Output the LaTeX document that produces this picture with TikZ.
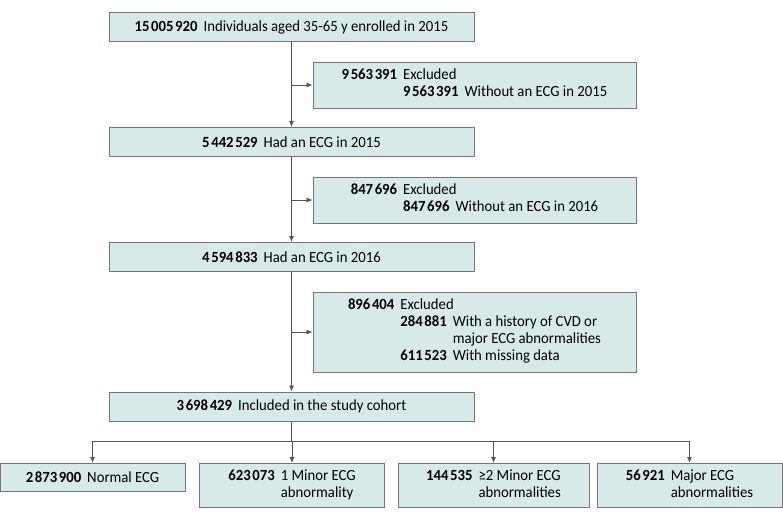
\documentclass[tikz,border=0pt]{standalone}
\usepackage{fontspec}
\setmainfont{Carlito}[FakeStretch=0.95]
\usepackage{tikz}
\usetikzlibrary{arrows.meta, positioning}

\definecolor{boxfill}{RGB}{216,233,234}
\definecolor{boxline}{RGB}{118,118,118}
\definecolor{flowline}{RGB}{85,85,85}

\newcommand{\gs}{\hspace{1.6pt}}
\newcommand{\cnt}[1]{\textbf{#1}\hspace{6pt}}

\begin{document}
\begin{tikzpicture}[
    x=1pt, y=-1pt,
    font=\fontsize{15.5}{17}\selectfont,
    box/.style={rectangle, draw=boxline, line width=0.9pt, fill=boxfill, inner sep=0pt, text centered},
    mainbox/.style={box, minimum width=365pt, minimum height=29pt},
    exclbox/.style={box, minimum width=323pt},
    outbox/.style={box, anchor=north, minimum width=185pt},
    arrow/.style={-{Latex[length=6pt, width=5pt]}, draw=flowline, line width=0.8pt}
]
\useasboundingbox (0,0) rectangle (783,521);

% Main sequence of cohort boxes
\node[mainbox] (enrolled) at (291.5,27) {\cnt{15\gs005\gs920}Individuals aged 35-65 y enrolled in 2015};
\node[mainbox] (ecg2015) at (291.5,142) {\cnt{5\gs442\gs529}Had an ECG in 2015};
\node[mainbox] (ecg2016) at (291.5,257) {\cnt{4\gs594\gs833}Had an ECG in 2016};
\node[mainbox] (cohort) at (291.5,406.5) {\cnt{3\gs698\gs429}Included in the study cohort};

% Exclusion boxes
\node[exclbox, minimum height=46pt] (excl1) at (474.5,85) {%
  \begin{tabular}{@{}r@{\hspace{6pt}}l@{}}
  \textbf{9\gs563\gs391} & Excluded\\
   & \cnt{9\gs563\gs391}Without an ECG in 2015
  \end{tabular}};
\node[exclbox, minimum height=46pt] (excl2) at (474.5,200) {%
  \begin{tabular}{@{}r@{\hspace{6pt}}l@{}}
  \textbf{847\gs696} & Excluded\\
   & \cnt{847\gs696}Without an ECG in 2016
  \end{tabular}};
\node[exclbox, minimum height=80pt] (excl3) at (474.5,332) {%
  \begin{tabular}{@{}r@{\hspace{6pt}}l@{}}
  \textbf{896\gs404} & Excluded\\
   & \begin{tabular}[t]{@{}r@{\hspace{6pt}}l@{}}
     \textbf{284\gs881} & With a history of CVD or\\
      & major ECG abnormalities\\
     \textbf{611\gs523} & With missing data
     \end{tabular}
  \end{tabular}};

% Outcome boxes
\node[outbox, minimum height=28pt] (normal) at (92.5,463) {\cnt{2\gs873\gs900}Normal ECG};
\node[outbox, minimum height=44pt] (minor1) at (292,463) {%
  \begin{tabular}{@{}r@{\hspace{6pt}}l@{}}
  \textbf{623\gs073} & 1 Minor ECG\\
   & abnormality
  \end{tabular}};
\node[outbox, minimum height=44pt, minimum width=191pt] (minor2) at (493.5,463) {%
  \begin{tabular}{@{}r@{\hspace{6pt}}l@{}}
  \textbf{144\gs535} & ≥2 Minor ECG\\
   & abnormalities
  \end{tabular}};
\node[outbox, minimum height=44pt] (major) at (689.5,463) {%
  \begin{tabular}{@{}r@{\hspace{6pt}}l@{}}
  \textbf{56\gs921} & Major ECG\\
   & abnormalities
  \end{tabular}};

% Trunk with side exits
\draw[arrow] (enrolled) -- (ecg2015);
\draw[arrow] (ecg2015) -- (ecg2016);
\draw[arrow] (ecg2016) -- (cohort);
\coordinate (j1) at (enrolled.south |- excl1.west);
\coordinate (j2) at (enrolled.south |- excl2.west);
\coordinate (j3) at (enrolled.south |- excl3.west);
\draw[arrow] (j1) -- (excl1.west);
\draw[arrow] (j2) -- (excl2.west);
\draw[arrow] (j3) -- (excl3.west);

% Split into outcome groups
\coordinate (split) at (291.5,441);
\draw[draw=flowline, line width=0.8pt] (cohort.south) -- (split);
\draw[draw=flowline, line width=0.8pt] (normal.north |- split) -- (major.north |- split);
\draw[arrow] (normal.north |- split) -- (normal.north);
\draw[arrow] (minor1.north |- split) -- (minor1.north);
\draw[arrow] (minor2.north |- split) -- (minor2.north);
\draw[arrow] (major.north |- split) -- (major.north);

\end{tikzpicture}
\end{document}
